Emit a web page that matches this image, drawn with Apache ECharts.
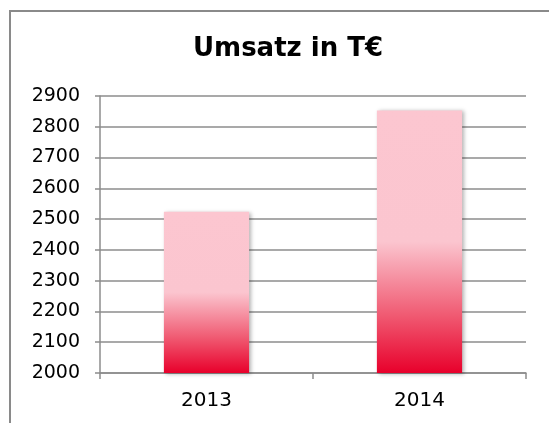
<!DOCTYPE html>
<html>
<head>
<meta charset="utf-8">
<script src="https://cdn.jsdelivr.net/npm/echarts@6/dist/echarts.min.js"></script>
<style>
html,body{margin:0;padding:0;background:#fff;}
#c{width:549px;height:423px;}
</style>
</head>
<body>
<div id="c"></div>
<script>
const titleText = 'Umsatz in T€';
const categories = ['2013', '2014'];
const values = [2524, 2853];
const yMin = 2000, yMax = 2900, yStep = 100;

const chart = echarts.init(document.getElementById('c'), null, {renderer: 'canvas'});
const font = '"DejaVu Sans", Verdana, sans-serif';
const lineGray = '#8c8c8c';
const barGradient = new echarts.graphic.LinearGradient(0, 1, 0, 0, [
  {offset: 0, color: '#e8002b'},
  {offset: 0.22, color: '#f05a72'},
  {offset: 0.5, color: '#fbc5cf'},
  {offset: 1, color: '#fcc6d0'}
]);
chart.setOption({
  animation: false,
  backgroundColor: '#fff',
  graphic: [{
    type: 'rect',
    shape: {x: 10, y: 11, width: 620, height: 500},
    style: {fill: 'none', stroke: '#8a8a8a', lineWidth: 2},
    silent: true, z: -1
  }],
  title: {
    text: titleText,
    left: 283, top: 31,
    textAlign: 'center',
    textStyle: {fontFamily: font, fontWeight: 'bold', fontSize: 26, color: '#000'}
  },
  grid: {left: 100, right: 23, top: 96, bottom: 50, containLabel: false},
  xAxis: {
    type: 'category',
    data: categories,
    boundaryGap: true,
    axisLine: {show: true, lineStyle: {color: lineGray, width: 1.5}},
    axisTick: {show: true, length: 6, alignWithLabel: false, lineStyle: {color: lineGray, width: 1.5}},
    axisLabel: {fontFamily: font, fontSize: 20, color: '#000', margin: 18}
  },
  yAxis: {
    type: 'value',
    min: yMin, max: yMax, interval: yStep,
    axisLine: {show: true, lineStyle: {color: lineGray, width: 1.5}},
    axisTick: {show: true, length: 5, lineStyle: {color: lineGray, width: 1.5}},
    axisLabel: {fontFamily: font, fontSize: 19, color: '#000', margin: 20,
      formatter: function (v) { return String(v); }},
    splitLine: {show: true, lineStyle: {color: lineGray, width: 1.5}}
  },
  series: [{
    type: 'bar',
    data: values,
    barWidth: '40%',
    itemStyle: {
      color: barGradient,
      shadowBlur: 4, shadowOffsetX: 2, shadowOffsetY: 1,
      shadowColor: 'rgba(0,0,0,0.3)'
    }
  }]
});
</script>
</body>
</html>
